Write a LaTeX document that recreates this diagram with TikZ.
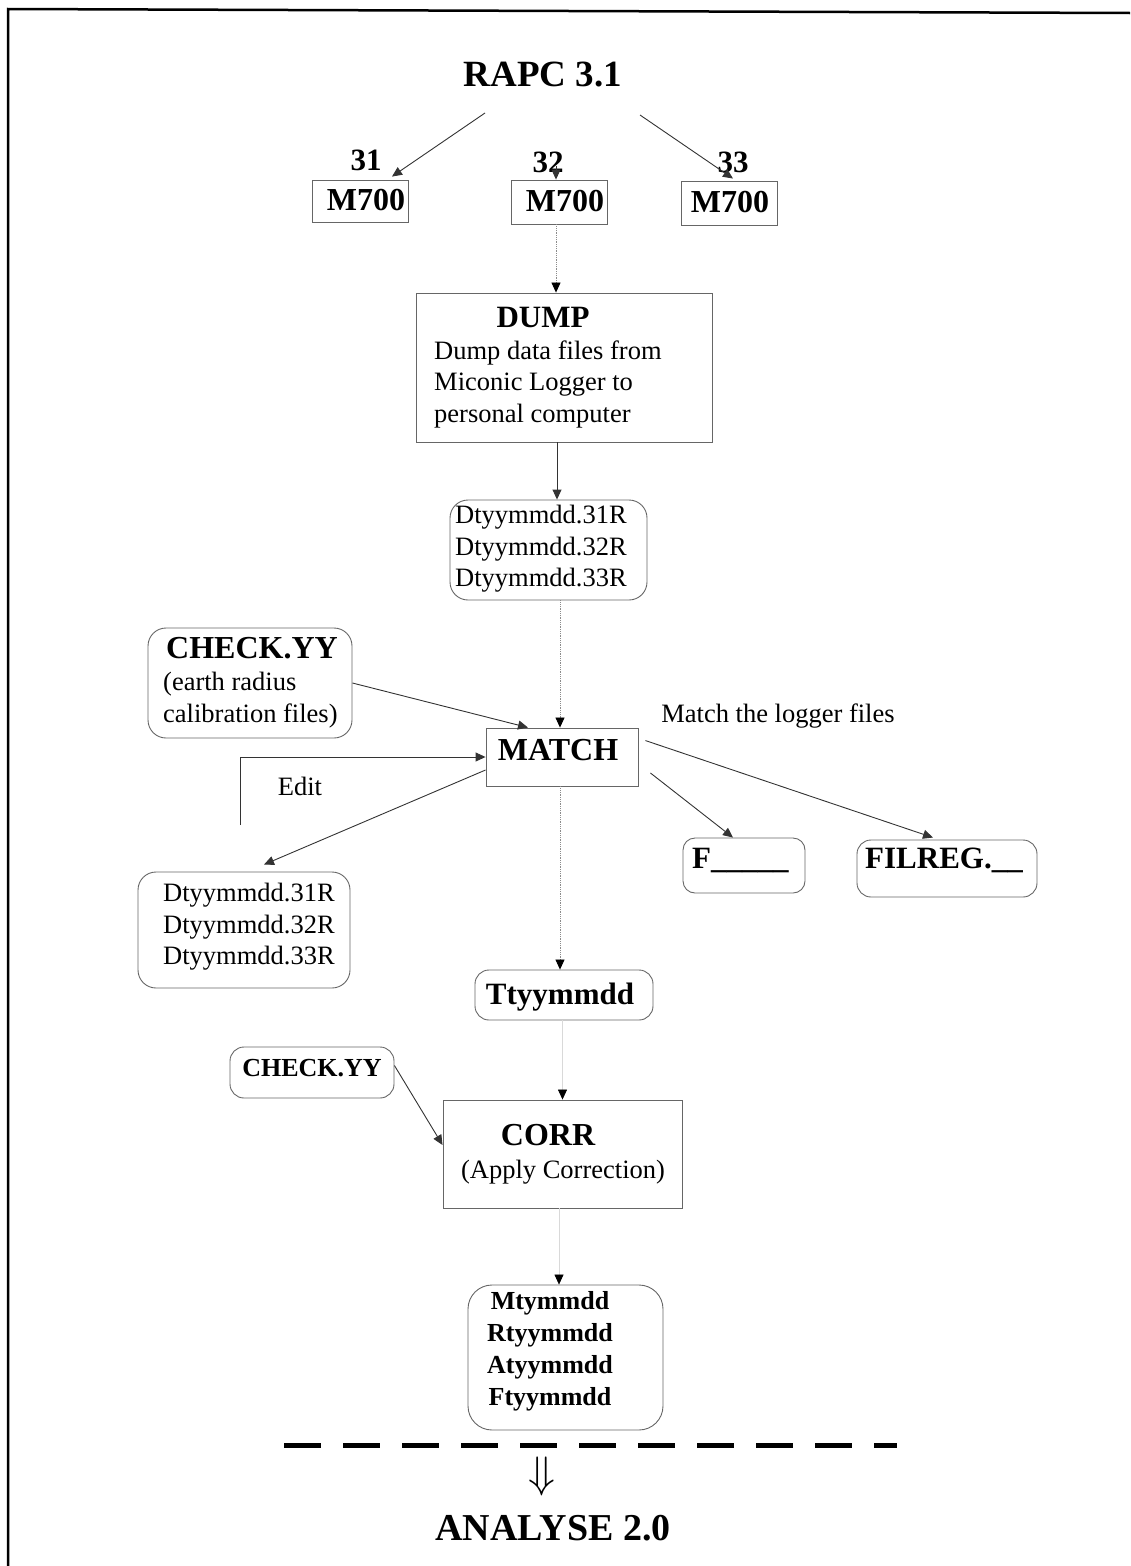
\documentclass[tikz,border=0pt]{standalone}
\usepackage{fontspec}
\setmainfont{Liberation Serif}
\usetikzlibrary{arrows.meta}
\begin{document}
\begin{tikzpicture}[x=1pt,y=-1pt,
  sq/.style={draw=black!60, line width=0.9pt, inner sep=0pt},
  rd/.style={sq, rounded corners=18pt},
  arr/.style={draw=black!80, line width=0.9pt, -{Triangle[length=10pt,width=9pt]}},
  dotarr/.style={draw=black!45, line width=0.8pt, densely dotted, -{Triangle[length=10pt,width=9pt,color=black]}},
  faintarr/.style={draw=black!15, line width=0.6pt, -{Triangle[length=10pt,width=9pt,color=black]}},
  tb/.style={font=\bfseries\fontsize{#1}{#1}\selectfont, inner sep=0pt},
  tx/.style={font=\fontsize{26.5}{31.5}\selectfont, align=left, inner sep=0pt},
]
\useasboundingbox (0,0) rectangle (1130,1566);
\draw[line width=2.5pt] (1130,13) -- (8,9) -- (8,1566);

% top
\node[tb=37] (rapc) at (543,75) {RAPC 3.1};
\node[sq, minimum width=96pt, minimum height=42pt] (m1) at (360,201) {};
\node[tb=32] (m1t) at (366,200) {M700};
\node[sq, minimum width=96pt, minimum height=44pt] (m2) at (559,202) {};
\node[tb=32] (m2t) at (565,201) {M700};
\node[sq, minimum width=96pt, minimum height=44pt] (m3) at (729,203) {};
\node[tb=32] (m3t) at (730,202) {M700};
\node[tb=31] (n31) at (366,160) {31};
\node[tb=31] (n32) at (548,162) {32};
\node[tb=31] (n33) at (733,162) {33};
\coordinate (r1) at (485,113);
\coordinate (r3) at (640,115);
\coordinate (c32) at (556,166);
\draw[arr] (r1) -- ([xshift=32pt,yshift=3pt]m1.north);
\draw[arr] (c32) -- ([xshift=-3pt]m2.north);
\draw[arr] (r3) -- ([xshift=4pt,yshift=2pt]m3.north);

% dump
\node[sq, minimum width=296pt, minimum height=149pt] (dump) at (564,367.5) {};
\node[tb=31] (dumpt) at (543,317) {DUMP};
\node[tx, anchor=west] (dumpx) at (434,384) {Dump data files from\\Miconic Logger to\\personal computer};
\draw[dotarr] ([xshift=-3pt]m2.south) -- ([xshift=-3pt]m2.south |- dump.north);

% dty1
\node[rd, minimum width=197pt, minimum height=100pt] (dty1) at (548.5,550) {};
\node[tx, anchor=west] (dty1x) at (455,549) {Dtyymmdd.31R\\Dtyymmdd.32R\\Dtyymmdd.33R};
\draw[arr] ([xshift=-7pt]dump.south) -- ([xshift=-7pt]dump.south |- dty1.north);

% check1
\node[rd, minimum width=204pt, minimum height=110pt] (chk1) at (250,683) {};
\node[tb=32, anchor=west] (chk1t) at (166,648) {CHECK.YY};
\node[tx, anchor=west] (chk1x) at (163,700) {(earth radius\\calibration files)};

% match
\node[sq, minimum width=152pt, minimum height=58pt] (match) at (562,757) {};
\node[tb=32] (matcht) at (558,750) {MATCH};
\draw[dotarr] ([xshift=-2pt]match.north |- dty1.south) -- ([xshift=-2pt]match.north);
\draw[arr] (chk1.east) -- ([xshift=-34pt]match.north);
\node[tx] (mlabel) at (778,716) {Match the logger files};
\coordinate (e0) at (240,825);
\draw[arr] (e0) |- (match.west);
\node[tx] (editl) at (300,786) {Edit};

% dty2
\node[rd, minimum width=212pt, minimum height=116pt] (dty2) at (244,930) {};
\node[tx, anchor=west] (dty2x) at (163,927) {Dtyymmdd.31R\\Dtyymmdd.32R\\Dtyymmdd.33R};
\draw[arr] ([yshift=-13pt]match.west) -- ([xshift=20pt,yshift=7pt]dty2.north);

% F and FILREG
\node[rd, rounded corners=12pt, minimum width=122pt, minimum height=55pt] (fbox) at (744,865.5) {};
\node[tb=31, anchor=west] (fboxt) at (692,860) {F\_\_\_\_\_};
\node[rd, rounded corners=14pt, minimum width=180pt, minimum height=57pt] (filreg) at (947,868.5) {};
\node[tb=31, anchor=west] (filregt) at (865,860) {FILREG.\_\_};
\draw[arr] ([xshift=7pt,yshift=-13pt]match.north east) -- ([xshift=-14pt,yshift=2pt]filreg.north);
\draw[arr] ([xshift=12pt,yshift=-16pt]match.east) -- ([xshift=-11pt]fbox.north);

% tty
\node[rd, rounded corners=14pt, minimum width=178pt, minimum height=50pt] (tty) at (564,995) {};
\node[tb=31] (ttyt) at (560,997) {Ttyymmdd};
\draw[dotarr] ([xshift=-2pt]match.south) -- ([xshift=-2pt]match.south |- tty.north);

% check2 and corr
\node[rd, rounded corners=14pt, minimum width=164pt, minimum height=51pt] (chk2) at (312,1072.5) {};
\node[tb=26] (chk2t) at (312,1068) {CHECK.YY};
\node[sq, minimum width=239pt, minimum height=108pt] (corr) at (562.5,1154) {};
\node[tb=32] (corrt) at (548,1135) {CORR};
\node[tx] (corrx) at (563,1172) {(Apply Correction)};
\draw[faintarr] (corr.north |- tty.south) -- (corr.north);
\draw[arr] ([yshift=7pt]chk2.east) -- ([yshift=9pt]corr.west);

% mbox
\node[rd, rounded corners=24pt, minimum width=195pt, minimum height=145pt] (mbox) at (565.5,1357.5) {};
\node[font=\bfseries\fontsize{26}{32}\selectfont, align=center, inner sep=0pt] (mboxt) at (550,1351) {Mtymmdd\\Rtyymmdd\\Atyymmdd\\Ftyymmdd};
\draw[faintarr] ([xshift=-3.5pt]corr.south) -- ([xshift=-3.5pt]corr.south |- mbox.north);

% bottom
\coordinate (d0) at (284,1445);
\coordinate (d1) at (897,1445);
\draw[line width=5pt, dash pattern=on 37pt off 22pt] (d0) -- (d1);
\node[scale=4.4, inner sep=0pt] (dn) at (542,1476) {$\Downarrow$};
\node[tb=38] (anl) at (553,1528) {ANALYSE 2.0};
\end{tikzpicture}
\end{document}
